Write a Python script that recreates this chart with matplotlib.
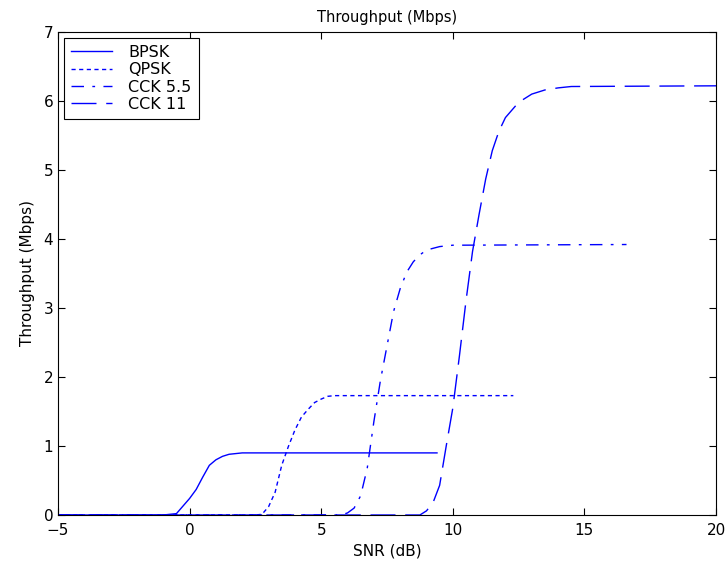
import numpy as np
import matplotlib
matplotlib.use("Agg")
import matplotlib.pyplot as plt

# values
bpsk_snr = [-5, -1.0, -0.5, -0.25, 0, 0.25, 0.5, 0.75, 1.0, 1.25, 1.5, 2.0, 9.4]
bpsk_thr = [0, 0, 0.02, 0.13, 0.24, 0.37, 0.55, 0.72, 0.8, 0.85, 0.88, 0.9, 0.9]

qpsk_snr = [-5, 2.5, 2.75, 3.0, 3.25, 3.5, 3.75, 4.0, 4.25, 4.5, 4.75, 5.0, 5.25, 5.5, 12.3]
qpsk_thr = [0, 0, 0.01, 0.12, 0.33, 0.72, 0.99, 1.23, 1.42, 1.53, 1.63, 1.68, 1.72, 1.73, 1.73]

cck55_snr = [-5, 5.75, 6.0, 6.25, 6.5, 6.75, 7.0, 7.25, 7.5, 7.75, 8.0, 8.25, 8.5, 8.75, 9.0, 9.5, 10.0, 16.6]
cck55_thr = [0, 0, 0.03, 0.1, 0.28, 0.68, 1.35, 1.95, 2.45, 2.95, 3.28, 3.52, 3.67, 3.77, 3.84, 3.89, 3.91, 3.92]

cck11_snr = [-5, 8.75, 9.0, 9.25, 9.5, 9.75, 10.0, 10.25, 10.5, 10.75, 11.0, 11.25, 11.5, 11.75, 12.0, 12.5, 13.0, 13.5, 14.0, 14.5, 20]
cck11_thr = [0, 0, 0.06, 0.18, 0.43, 1.0, 1.55, 2.3, 3.1, 3.82, 4.36, 4.87, 5.28, 5.56, 5.76, 5.98, 6.1, 6.16, 6.19, 6.21, 6.22]

plt.rcParams['font.family'] = ['DejaVu Sans']
plt.rcParams['font.size'] = 11

fig = plt.figure(figsize=(7.27, 5.69), dpi=100)
ax = fig.add_axes([58/727, 54/569, 658/727, 483/569])

ax.plot(bpsk_snr, bpsk_thr, color='blue', lw=1, ls='-', label='BPSK')
ax.plot(qpsk_snr, qpsk_thr, color='blue', lw=1, ls=(0, (3, 2.5)), label='QPSK')
ax.plot(cck55_snr, cck55_thr, color='blue', lw=1, ls=(0, (9, 6, 2, 6)), label='CCK 5.5')
ax.plot(cck11_snr, cck11_thr, color='blue', lw=1, ls=(0, (18, 7)), label='CCK 11')

ax.set_xlim(-5, 20)
ax.set_ylim(0, 7)
ax.set_xticks([-5, 0, 5, 10, 15, 20])
ax.set_yticks(range(8))
ax.tick_params(direction='in', top=True, right=True, length=5, width=0.8, labelsize=11)
ax.tick_params(axis='x', pad=6)
for s in ax.spines.values():
    s.set_linewidth(0.8)

ax.set_title('Throughput (Mbps)', fontsize=10.5, pad=7)
ax.set_xlabel('SNR (dB)', labelpad=4)
ax.set_ylabel('Throughput (Mbps)', labelpad=6)

leg = ax.legend(loc='upper left', fancybox=False, edgecolor='black', framealpha=1,
                handlelength=2.6, handletextpad=1.0, labelspacing=0.15,
                borderaxespad=0.35, borderpad=0.45, fontsize=11.5)
leg.get_frame().set_linewidth(0.8)

fig.savefig('out.png', dpi=100)
